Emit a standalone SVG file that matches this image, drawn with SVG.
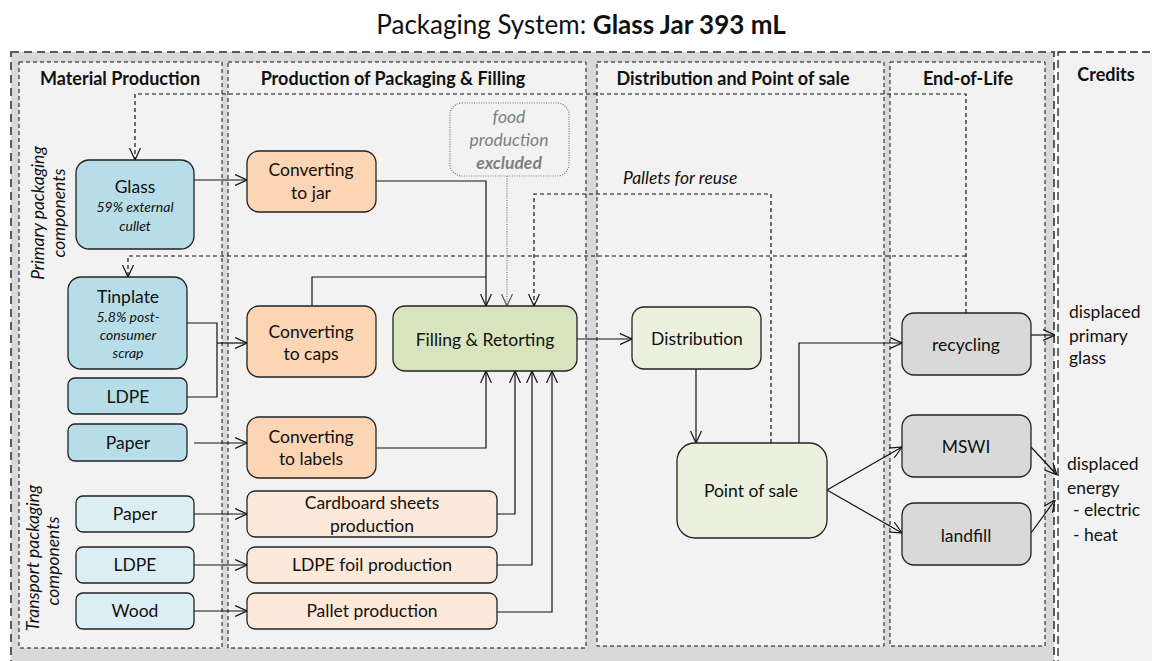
<svg xmlns="http://www.w3.org/2000/svg" width="1152" height="661" viewBox="0 0 1152 661">
<style>
.t{font-family:Lato,"Liberation Sans",sans-serif;font-size:17.5px;fill:#111;text-anchor:middle}
.h{font-weight:bold;font-size:18px}
.sm{font-size:14px;font-style:italic}
.it{font-style:italic}
.rot{font-style:italic;font-size:17.5px}
.st{text-anchor:start}
.panel{fill:#f2f2f2;stroke:#111;stroke-width:1;stroke-dasharray:4 3}
.box{stroke:#222;stroke-width:1.3}
.ln{fill:none;stroke:#111;stroke-width:1.2}
.ds{stroke-dasharray:4 3}
.dt{stroke:#777;stroke-dasharray:1 1.4}
</style>
<defs>
<marker id="a" viewBox="0 0 12 12" refX="12" refY="6" markerWidth="12" markerHeight="12" markerUnits="userSpaceOnUse" orient="auto"><path d="M0,0.5 L12,6 L0,11.5" fill="none" stroke="#111" stroke-width="1.2"/></marker>
<marker id="ag" viewBox="0 0 12 12" refX="12" refY="6" markerWidth="12" markerHeight="12" markerUnits="userSpaceOnUse" orient="auto"><path d="M0,0.5 L12,6 L0,11.5" fill="none" stroke="#555" stroke-width="1.2"/></marker>
</defs>
<rect width="1152" height="661" fill="#fff"/>
<text class="t" x="581" y="34" style="font-size:26px">Packaging System: <tspan font-weight="bold">Glass Jar 393 mL</tspan></text>
<g id="frames">
<rect x="11" y="52" width="1043" height="630" fill="#d9d9d9" stroke="#595959" stroke-width="2" stroke-dasharray="8 5"/>
<rect x="1058" y="52" width="110" height="630" fill="#f2f2f2" stroke="#222" stroke-width="1.3" stroke-dasharray="8 4"/>
<rect class="panel" x="19" y="62" width="203" height="586"/>
<rect class="panel" x="228" y="62" width="358" height="586"/>
<rect class="panel" x="597" y="62" width="287" height="584"/>
<rect class="panel" x="890" y="62" width="155" height="584"/>
<text class="t h" x="120" y="85">Material Production</text>
<text class="t h" x="393" y="85">Production of Packaging &amp; Filling</text>
<text class="t h" x="733" y="85">Distribution and Point of sale</text>
<text class="t h" x="968" y="85">End-of-Life</text>
<text class="t h" x="1106" y="81">Credits</text>
<text class="t rot" transform="translate(44,213) rotate(-90)">Primary packaging</text>
<text class="t rot" transform="translate(65,213) rotate(-90)">components</text>
<text class="t rot" transform="translate(39,558) rotate(-90)">Transport packaging</text>
<text class="t rot" transform="translate(59,561) rotate(-90)">components</text>
</g>
<g id="connectors">
<path class="ln ds" d="M966,313 V94 H135 V160" marker-end="url(#a)"/>
<path class="ln ds" d="M966,256 H128 V277" marker-end="url(#a)"/>
<path class="ln ds" d="M771,443 V194 H534 V306" marker-end="url(#a)"/>
<path class="ln dt" d="M507,176 V306" marker-end="url(#ag)"/>
<path class="ln" d="M194,180 H247" marker-end="url(#a)"/>
<path class="ln" d="M376,181 H486 V306" marker-end="url(#a)"/>
<path class="ln" d="M312,306 V277 H486"/>
<path class="ln" d="M187,323 H217 V397 H187"/>
<path class="ln" d="M217,343 H247" marker-end="url(#a)"/>
<path class="ln" d="M194,443 H247" marker-end="url(#a)"/>
<path class="ln" d="M376,448 H486 V371" marker-end="url(#a)"/>
<path class="ln" d="M497,514 H515 V371" marker-end="url(#a)"/>
<path class="ln" d="M497,565 H532 V371" marker-end="url(#a)"/>
<path class="ln" d="M497,612 H552 V371" marker-end="url(#a)"/>
<path class="ln" d="M194,514 H247" marker-end="url(#a)"/>
<path class="ln" d="M194,565 H247" marker-end="url(#a)"/>
<path class="ln" d="M194,611 H247" marker-end="url(#a)"/>
<path class="ln" d="M577,339 H632" marker-end="url(#a)"/>
<path class="ln" d="M696,369 V443" marker-end="url(#a)"/>
<path class="ln" d="M799,443 V343 H902" marker-end="url(#a)"/>
<path class="ln" d="M827,490 L902,447" marker-end="url(#a)"/>
<path class="ln" d="M827,490 L902,533" marker-end="url(#a)"/>
<path class="ln" d="M1030,335 H1055" marker-end="url(#a)"/>
<path class="ln" d="M1031,447 L1057,475" marker-end="url(#a)"/>
<path class="ln" d="M1031,533 L1055,500" marker-end="url(#a)"/>
</g>
<g id="glass"><rect class="box" x="76" y="160" width="118" height="89" rx="13" fill="#b7dde8"/><text class="t" x="135" y="193">Glass</text><text class="t sm" x="135" y="212">59%  external</text><text class="t sm" x="135" y="231">cullet</text></g>
<g id="tinplate"><rect class="box" x="68" y="277" width="119" height="92" rx="13" fill="#b7dde8"/><text class="t" x="128" y="303">Tinplate</text><text class="t sm" x="128" y="322">5.8%  post-</text><text class="t sm" x="128" y="340">consumer</text><text class="t sm" x="128" y="358">scrap</text></g>
<g id="ldpe1"><rect class="box" x="68" y="378" width="119" height="36" rx="7" fill="#b7dde8"/><text class="t" x="128" y="403">LDPE</text></g>
<g id="paper1"><rect class="box" x="68" y="424" width="119" height="37" rx="7" fill="#b7dde8"/><text class="t" x="128" y="449">Paper</text></g>
<g id="paper2"><rect class="box" x="76" y="496" width="118" height="36" rx="7" fill="#dbeef4"/><text class="t" x="135" y="520">Paper</text></g>
<g id="ldpe2"><rect class="box" x="76" y="547" width="118" height="36" rx="7" fill="#dbeef4"/><text class="t" x="135" y="571">LDPE</text></g>
<g id="wood"><rect class="box" x="76" y="593" width="118" height="36" rx="7" fill="#dbeef4"/><text class="t" x="135" y="617">Wood</text></g>
<g id="convjar"><rect class="box" x="247" y="151" width="129" height="61" rx="12" fill="#fcd5b5"/><text class="t" x="311" y="176">Converting</text><text class="t" x="311" y="199">to jar</text></g>
<g id="convcaps"><rect class="box" x="247" y="306" width="129" height="71" rx="12" fill="#fcd5b5"/><text class="t" x="311" y="338">Converting</text><text class="t" x="311" y="360">to caps</text></g>
<g id="convlabels"><rect class="box" x="247" y="417" width="129" height="61" rx="12" fill="#fcd5b5"/><text class="t" x="311" y="443">Converting</text><text class="t" x="311" y="465">to labels</text></g>
<g id="cardboard"><rect class="box" x="247" y="491" width="250" height="46" rx="8" fill="#fde9d9"/><text class="t" x="372" y="509">Cardboard sheets</text><text class="t" x="372" y="532">production</text></g>
<g id="ldpefoil"><rect class="box" x="247" y="547" width="250" height="36" rx="8" fill="#fde9d9"/><text class="t" x="372" y="571">LDPE foil production</text></g>
<g id="pallet"><rect class="box" x="247" y="593" width="250" height="36" rx="8" fill="#fde9d9"/><text class="t" x="372" y="617">Pallet production</text></g>
<g id="food"><rect x="450" y="103" width="119" height="73" rx="12" fill="none" stroke="#777" stroke-width="1.2" stroke-dasharray="1 1.4"/><text class="t it" x="509" y="123" style="fill:#7f7f7f">food</text><text class="t it" x="509" y="146" style="fill:#7f7f7f">production</text><text class="t it" x="509" y="169" style="fill:#7f7f7f;font-weight:bold">excluded</text></g>
<g id="filling"><rect class="box" x="393" y="306" width="184" height="65" rx="12" fill="#d7e4bd"/><text class="t" x="485" y="346">Filling &amp; Retorting</text></g>
<g id="distribution"><rect class="box" x="632" y="307" width="129" height="62" rx="12" fill="#ebf1de"/><text class="t" x="697" y="345">Distribution</text></g>
<g id="pallets-label"><text class="t it st" x="623" y="184">Pallets for reuse</text></g>
<g id="pos"><rect class="box" x="677" y="443" width="150" height="95" rx="18" fill="#ebf1de"/><text class="t" x="751" y="497">Point of sale</text></g>
<g id="recycling"><rect class="box" x="902" y="313" width="129" height="62" rx="12" fill="#d9d9d9"/><text class="t" x="966" y="351">recycling</text></g>
<g id="mswi"><rect class="box" x="902" y="415" width="129" height="62" rx="12" fill="#d9d9d9"/><text class="t" x="966" y="453">MSWI</text></g>
<g id="landfill"><rect class="box" x="902" y="503" width="129" height="62" rx="12" fill="#d9d9d9"/><text class="t" x="966" y="542">landfill</text></g>
<g id="credit-glass"><text class="t st" x="1069" y="318">displaced</text><text class="t st" x="1069" y="342">primary</text><text class="t st" x="1069" y="364">glass</text></g>
<g id="credit-energy"><text class="t st" x="1067" y="470">displaced</text><text class="t st" x="1067" y="494">energy</text><text class="t st" x="1073" y="516"> - electric</text><text class="t st" x="1073" y="541"> - heat</text></g>
</svg>
